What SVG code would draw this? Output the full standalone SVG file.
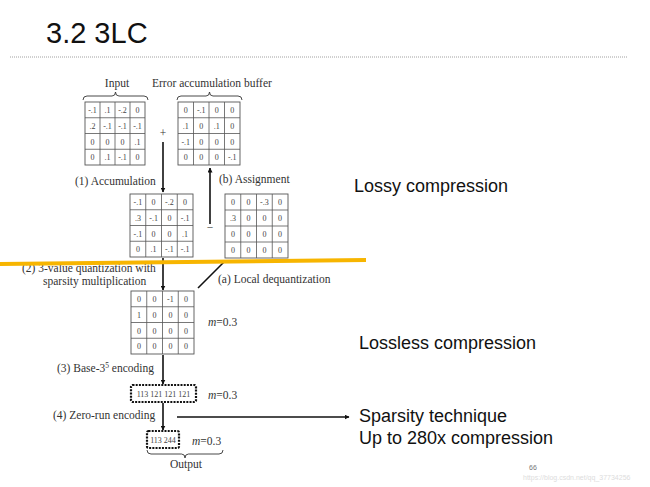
<svg xmlns="http://www.w3.org/2000/svg" width="650" height="487" viewBox="0 0 650 487">
<style>
.lbl{font-family:"Liberation Serif","DejaVu Serif",serif;font-size:11.5px;fill:#333}
.cell{font-family:"Liberation Serif","DejaVu Serif",serif;font-size:8px;fill:#444;text-anchor:middle}
.grid rect{fill:#fff;stroke:#555;stroke-width:0.9}
.grid line{stroke:#555;stroke-width:0.8}
.sans{font-family:"Liberation Sans",Arial,sans-serif;fill:#111}
.arr{stroke:#111;stroke-width:1.6;fill:none}
.brace{stroke:#333;stroke-width:0.9;fill:none}
.dbox{fill:#fff;stroke:#111;stroke-width:2.2;stroke-dasharray:2 1.2}
</style>
<defs>
<marker id="ah" viewBox="0 0 10 10" refX="9" refY="5" markerWidth="5" markerHeight="5" orient="auto" markerUnits="userSpaceOnUse">
<path d="M0,0 L10,5 L0,10 z" fill="#111"/>
</marker>
</defs>
<rect width="650" height="487" fill="#fff"/>
<g id="title">
<text class="sans" x="46" y="43" font-size="29">3.2 3LC</text>
<line x1="10" y1="57" x2="628" y2="57" stroke="#888" stroke-width="0.8" stroke-dasharray="1 1"/>
</g>

<g id="input" class="grid">
<text class="lbl" x="117" y="87" text-anchor="middle">Input</text>
<path class="brace" d="M83,100 Q83,96 87,96 L112,96 Q115.5,96 115.5,92 Q115.5,96 119,96 L144,96 Q148,96 148,100"/>
<rect x="85" y="102" width="60" height="63"/>
<line x1="100" y1="102" x2="100" y2="165"/><line x1="115" y1="102" x2="115" y2="165"/><line x1="130" y1="102" x2="130" y2="165"/>
<line x1="85" y1="117.75" x2="145" y2="117.75"/><line x1="85" y1="133.5" x2="145" y2="133.5"/><line x1="85" y1="149.25" x2="145" y2="149.25"/>
<text class="cell" x="92.5" y="112.5">-.1</text><text class="cell" x="107.5" y="112.5">.1</text><text class="cell" x="122.5" y="112.5">-.2</text><text class="cell" x="137.5" y="112.5">0</text>
<text class="cell" x="92.5" y="128.5">.2</text><text class="cell" x="107.5" y="128.5">-.1</text><text class="cell" x="122.5" y="128.5">-.1</text><text class="cell" x="137.5" y="128.5">-.1</text>
<text class="cell" x="92.5" y="144.5">0</text><text class="cell" x="107.5" y="144.5">0</text><text class="cell" x="122.5" y="144.5">0</text><text class="cell" x="137.5" y="144.5">.1</text>
<text class="cell" x="92.5" y="160">0</text><text class="cell" x="107.5" y="160">.1</text><text class="cell" x="122.5" y="160">-.1</text><text class="cell" x="137.5" y="160">0</text>
</g>

<g id="error-buffer" class="grid">
<text class="lbl" x="152" y="87">Error accumulation buffer</text>
<path class="brace" d="M177,100 Q177,96 181,96 L206,96 Q209.5,96 209.5,92 Q209.5,96 213,96 L238,96 Q242,96 242,100"/>
<rect x="178" y="102" width="62" height="63"/>
<line x1="193.5" y1="102" x2="193.5" y2="165"/><line x1="209" y1="102" x2="209" y2="165"/><line x1="224.5" y1="102" x2="224.5" y2="165"/>
<line x1="178" y1="117.75" x2="240" y2="117.75"/><line x1="178" y1="133.5" x2="240" y2="133.5"/><line x1="178" y1="149.25" x2="240" y2="149.25"/>
<text class="cell" x="185.75" y="112.5">0</text><text class="cell" x="201.25" y="112.5">-.1</text><text class="cell" x="216.75" y="112.5">0</text><text class="cell" x="232.25" y="112.5">0</text>
<text class="cell" x="185.75" y="128.5">.1</text><text class="cell" x="201.25" y="128.5">0</text><text class="cell" x="216.75" y="128.5">.1</text><text class="cell" x="232.25" y="128.5">0</text>
<text class="cell" x="185.75" y="144.5">-.1</text><text class="cell" x="201.25" y="144.5">0</text><text class="cell" x="216.75" y="144.5">0</text><text class="cell" x="232.25" y="144.5">0</text>
<text class="cell" x="185.75" y="160">0</text><text class="cell" x="201.25" y="160">0</text><text class="cell" x="216.75" y="160">0</text><text class="cell" x="232.25" y="160">-.1</text>
</g>

<g id="accumulated" class="grid">
<rect x="130" y="194" width="63" height="63"/>
<line x1="145.75" y1="194" x2="145.75" y2="257"/><line x1="161.5" y1="194" x2="161.5" y2="257"/><line x1="177.25" y1="194" x2="177.25" y2="257"/>
<line x1="130" y1="209.75" x2="193" y2="209.75"/><line x1="130" y1="225.5" x2="193" y2="225.5"/><line x1="130" y1="241.25" x2="193" y2="241.25"/>
<text class="cell" x="137.9" y="204.5">-.1</text><text class="cell" x="153.6" y="204.5">0</text><text class="cell" x="169.4" y="204.5">-.2</text><text class="cell" x="185.1" y="204.5">0</text>
<text class="cell" x="137.9" y="220.5">.3</text><text class="cell" x="153.6" y="220.5">-.1</text><text class="cell" x="169.4" y="220.5">0</text><text class="cell" x="185.1" y="220.5">-.1</text>
<text class="cell" x="137.9" y="236.5">-.1</text><text class="cell" x="153.6" y="236.5">0</text><text class="cell" x="169.4" y="236.5">0</text><text class="cell" x="185.1" y="236.5">.1</text>
<text class="cell" x="137.9" y="252">0</text><text class="cell" x="153.6" y="252">.1</text><text class="cell" x="169.4" y="252">-.1</text><text class="cell" x="185.1" y="252">-.1</text>
</g>

<g id="dequantized" class="grid">
<rect x="225" y="194" width="63" height="64"/>
<line x1="240.75" y1="194" x2="240.75" y2="258"/><line x1="256.5" y1="194" x2="256.5" y2="258"/><line x1="272.25" y1="194" x2="272.25" y2="258"/>
<line x1="225" y1="210" x2="288" y2="210"/><line x1="225" y1="226" x2="288" y2="226"/><line x1="225" y1="242" x2="288" y2="242"/>
<text class="cell" x="232.9" y="205">0</text><text class="cell" x="248.6" y="205">0</text><text class="cell" x="264.4" y="205">-.3</text><text class="cell" x="280.1" y="205">0</text>
<text class="cell" x="232.9" y="221">.3</text><text class="cell" x="248.6" y="221">0</text><text class="cell" x="264.4" y="221">0</text><text class="cell" x="280.1" y="221">0</text>
<text class="cell" x="232.9" y="237">0</text><text class="cell" x="248.6" y="237">0</text><text class="cell" x="264.4" y="237">0</text><text class="cell" x="280.1" y="237">0</text>
<text class="cell" x="232.9" y="253">0</text><text class="cell" x="248.6" y="253">0</text><text class="cell" x="264.4" y="253">0</text><text class="cell" x="280.1" y="253">0</text>
</g>

<g id="quantized" class="grid">
<rect x="131" y="291" width="63" height="63"/>
<line x1="146.75" y1="291" x2="146.75" y2="354"/><line x1="162.5" y1="291" x2="162.5" y2="354"/><line x1="178.25" y1="291" x2="178.25" y2="354"/>
<line x1="131" y1="306.75" x2="194" y2="306.75"/><line x1="131" y1="322.5" x2="194" y2="322.5"/><line x1="131" y1="338.25" x2="194" y2="338.25"/>
<text class="cell" x="138.9" y="301.5">0</text><text class="cell" x="154.6" y="301.5">0</text><text class="cell" x="170.4" y="301.5">-1</text><text class="cell" x="186.1" y="301.5">0</text>
<text class="cell" x="138.9" y="317.5">1</text><text class="cell" x="154.6" y="317.5">0</text><text class="cell" x="170.4" y="317.5">0</text><text class="cell" x="186.1" y="317.5">0</text>
<text class="cell" x="138.9" y="333.5">0</text><text class="cell" x="154.6" y="333.5">0</text><text class="cell" x="170.4" y="333.5">0</text><text class="cell" x="186.1" y="333.5">0</text>
<text class="cell" x="138.9" y="349">0</text><text class="cell" x="154.6" y="349">0</text><text class="cell" x="170.4" y="349">0</text><text class="cell" x="186.1" y="349">0</text>
<text class="lbl" x="208" y="326"><tspan font-style="italic">m</tspan>=0.3</text>
</g>

<g id="base3-encoded">
<rect class="dbox" x="131" y="385" width="65" height="17" rx="1.5"/>
<text class="cell" x="163.5" y="396.8" font-size="8.3">113 121 121 121</text>
<text class="lbl" x="208" y="399"><tspan font-style="italic">m</tspan>=0.3</text>
</g>

<g id="output">
<rect class="dbox" x="147" y="431" width="32" height="17" rx="1.5"/>
<text class="cell" x="163" y="442.8" font-size="8.3">113 244</text>
<text class="lbl" x="192" y="445"><tspan font-style="italic">m</tspan>=0.3</text>
<path class="brace" d="M147,450 Q147,454 151,454 L181.5,454 Q185,454 185,458 Q185,454 188.5,454 L219,454 Q223,454 223,450"/>
<text class="lbl" x="186" y="468" text-anchor="middle">Output</text>
</g>

<g id="labels">
<text class="lbl" x="163" y="137" text-anchor="middle">+</text>
<text class="lbl" x="75" y="185">(1) Accumulation</text>
<text class="lbl" x="219" y="183">(b) Assignment</text>
<text class="lbl" x="210" y="231" text-anchor="middle">−</text>
<text class="lbl" x="22" y="272">(2) 3-value quantization with</text>
<text class="lbl" x="43" y="285">sparsity multiplication</text>
<text class="lbl" x="218" y="283">(a) Local dequantization</text>
<text class="lbl" x="57" y="372">(3) Base-3<tspan font-size="7.5" dy="-4.5">5</tspan><tspan dy="4.5"> encoding</tspan></text>
<text class="lbl" x="53" y="419">(4) Zero-run encoding</text>
</g>

<g id="connectors">
<line class="arr" x1="163" y1="142" x2="163" y2="192" marker-end="url(#ah)"/>
<line class="arr" x1="210" y1="224" x2="210" y2="168" marker-end="url(#ah)"/>
<line class="arr" x1="163" y1="258" x2="163" y2="290" marker-end="url(#ah)"/>
<line class="arr" x1="198" y1="288" x2="225" y2="261"/>
<line class="arr" x1="163" y1="355" x2="163" y2="384" marker-end="url(#ah)"/>
<line class="arr" x1="163" y1="403" x2="163" y2="430" marker-end="url(#ah)"/>
<line class="arr" x1="177" y1="417" x2="349" y2="417" marker-end="url(#ah)"/>
</g>

<g id="divider">
<line x1="0" y1="264" x2="366" y2="260" stroke="#F7B500" stroke-width="4"/>
</g>

<g id="notes">
<text class="sans" x="354" y="192" font-size="18">Lossy compression</text>
<text class="sans" x="359" y="349" font-size="18">Lossless compression</text>
<text class="sans" x="359" y="422" font-size="18">Sparsity technique</text>
<text class="sans" x="359" y="444" font-size="18">Up to 280x compression</text>
<text class="sans" x="529" y="470" font-size="7" style="fill:#777">66</text>
<text class="sans" x="523" y="480" font-size="7" style="fill:#ddd">https://blog.csdn.net/qq_37734256</text>
</g>
</svg>
